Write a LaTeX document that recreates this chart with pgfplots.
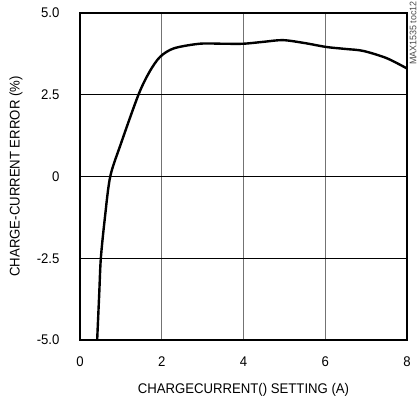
\documentclass[border=0pt]{standalone}
\usepackage{fontspec}
\setmainfont{Liberation Sans}[FakeStretch=0.94]
\usepackage{pgfplots}
\pgfplotsset{compat=1.18}
\begin{document}
\begin{tikzpicture}
\useasboundingbox (-80pt,-63pt) rectangle (340pt,340pt);
\begin{axis}[
  scale only axis, width=327pt, height=327pt,
  xmin=0, xmax=8, ymin=-5, ymax=5,
  xtick={0,2,4,6,8}, ytick={-5,-2.5,0,2.5,5},
  yticklabels={-5.0,-2.5,0,2.5,5.0},
  /pgf/number format/assume math mode=true,
  tick label style={font=\fontsize{14}{16}\selectfont},
  label style={font=\fontsize{14}{16}\selectfont},
  yticklabel style={xshift=-17pt},
  xticklabel style={yshift=-13pt},
  xlabel={CHARGECURRENT() SETTING (A)},
  ylabel={CHARGE-CURRENT ERROR (\%)},
  xlabel style={at={(axis description cs:0.5,-0.1223)}, anchor=north},
  ylabel style={at={(axis description cs:-0.196,0.5)}, anchor=center},
  axis line style={line width=2.6pt},
  major tick length=0pt,
  xmajorgrids, ymajorgrids,
  x grid style={black!55, line width=0.9pt},
  y grid style={black, line width=0.8pt},
  clip=true,
]
\addplot[black, line width=2.4pt, smooth, tension=0.5] coordinates {
(0.42,-5.0) (0.47,-3.6) (0.51,-2.5) (0.61,-1.25) (0.74,0.0) (1.0,1.0) (1.43,2.5) (1.7,3.2) (1.96,3.66) (2.3,3.92) (2.93,4.06) (3.5,4.06) (4.0,4.06) (4.5,4.12) (4.97,4.17) (5.5,4.08) (6.03,3.96) (6.5,3.90) (6.93,3.84) (7.5,3.62) (7.99,3.31)
};
\end{axis}
\node[rotate=90, anchor=east, inner sep=0pt, font=\fontsize{9.5}{10}\selectfont, text=black!70] at (333pt,339pt) {MAX1535 toc12};
\end{tikzpicture}
\end{document}
